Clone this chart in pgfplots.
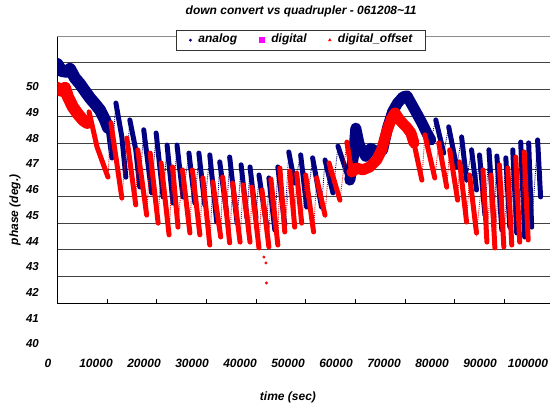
\documentclass[border=0pt]{standalone}
\usepackage{fontspec}
\setmainfont{Liberation Sans}
\usepackage{pgfplots}
\usepackage{pgfplotstable}
\pgfplotsset{compat=1.18}
\definecolor{navyc}{RGB}{0,0,128}
\definecolor{redc}{RGB}{255,0,0}
\definecolor{magc}{RGB}{255,0,255}
% analog (blue) oscillations, part 1
\pgfplotstableread{
x y
10200 46.57
11000 45.44
nan nan
11800 47.49
13000 46.22
13800 44.72
nan nan
14600 46.86
15800 45.74
16600 44.35
nan nan
17400 46.49
19000 44.13
nan nan
19900 46.37
21300 43.98
nan nan
22100 45.92
23300 43.75
nan nan
24100 45.92
25300 43.98
nan nan
26500 45.62
27700 43.75
nan nan
28500 45.62
29700 43.68
nan nan
30700 45.55
32100 43.04
nan nan
32700 45.29
34100 43.38
nan nan
34700 45.47
36200 43.00
nan nan
37000 45.18
38200 43.19
nan nan
38800 45.10
40000 43.19
nan nan
40600 44.80
42200 42.85
nan nan
42600 44.69
43800 42.74
nan nan
44400 45.10
45800 42.93
nan nan
46600 45.66
47800 44.50
nan nan
49000 45.55
50200 43.60
nan nan
51400 45.44
53200 43.60
nan nan
53900 45.36
55500 44.13
nan nan
56500 45.88
58900 44.54
}\blueA
% analog (blue) oscillations, part 2
\pgfplotstableread{
x y
75200 46.11
nan nan
76200 46.86
77800 45.62
nan nan
78800 46.60
80400 45.10
nan nan
81400 46.22
82400 44.61
nan nan
83400 45.74
84400 44.24
nan nan
85000 45.55
86100 43.30
nan nan
86900 45.74
87900 43.04
nan nan
88500 45.51
89500 42.74
nan nan
90300 45.44
91100 42.85
nan nan
91700 45.74
92500 42.63
nan nan
93300 46.03
94100 42.48
nan nan
94900 46.00
95500 42.85
nan nan
96700 46.11
97300 43.98
}\blueB
% digital_offset (red) oscillations, part 1
\pgfplotstableread{
x y
6400 47.16
8000 45.85
10200 44.72
nan nan
10800 46.75
13000 43.94
nan nan
14000 46.18
15800 43.68
nan nan
16200 45.74
18000 43.30
nan nan
18700 45.62
20300 43.00
nan nan
20900 45.25
22500 42.56
nan nan
23200 45.10
24300 42.85
nan nan
25200 44.99
26700 42.63
nan nan
27200 44.99
28700 42.56
nan nan
29300 44.69
30700 42.18
nan nan
31300 44.54
32900 42.48
nan nan
33300 44.72
34700 42.26
nan nan
35300 44.50
36800 42.29
nan nan
37400 44.43
38800 42.29
nan nan
39200 44.35
40600 42.07
nan nan
41200 44.24
42600 42.11
nan nan
43000 44.65
44400 42.18
nan nan
44800 45.06
45800 42.67
nan nan
46800 44.95
47800 42.85
nan nan
48200 44.87
49200 43.00
nan nan
50000 44.80
51600 42.67
nan nan
52200 44.69
53900 43.30
nan nan
54700 45.25
56900 43.86
nan nan
58300 46.03
59300 44.87
}\redA
% digital_offset (red) oscillations, part 2
\pgfplotstableread{
x y
71800 46.00
73400 44.61
nan nan
74000 46.30
76000 44.69
nan nan
76800 46.00
78400 44.35
nan nan
79000 45.74
80600 43.86
nan nan
81000 45.29
82400 43.04
nan nan
83000 44.80
84400 42.63
nan nan
85700 44.99
86500 42.29
nan nan
87300 44.80
88100 42.07
nan nan
89000 45.18
89900 42.11
nan nan
90700 45.06
91500 42.18
nan nan
92300 45.47
93100 42.29
nan nan
94000 45.66
94800 42.37
}\redB
\begin{document}
\begin{tikzpicture}
\useasboundingbox (0,0) rectangle (550pt,406pt);
\clip (0,0) rectangle (550pt,406pt);
% label layer (tick labels and axis titles)
\begin{axis}[
  at={(48pt,62pt)}, anchor=south west, scale only axis,
  width=480pt, height=257.3pt,
  xmin=0, xmax=100000, ymin=40, ymax=50,
  scaled x ticks=false, scaled y ticks=false,
  axis line style={draw=none}, tick style={draw=none},
  xtick={0,10000,20000,30000,40000,50000,60000,70000,80000,90000,100000},
  xticklabels={0,10000,20000,30000,40000,50000,60000,70000,80000,90000,100000},
  ytick={40,41,42,43,44,45,46,47,48,49,50},
  yticklabels={40,41,42,43,44,45,46,47,48,49,50},
  xticklabel style={anchor=base, yshift=-24pt, inner sep=0pt, font=\fontsize{12}{14}\selectfont\bfseries\itshape},
  yticklabel style={anchor=east, xshift=-9pt, inner sep=0pt, font=\fontsize{11.5}{13}\selectfont\bfseries\itshape},
  xlabel={time (sec)}, ylabel={phase (deg.)},
  xlabel style={at={(axis description cs:0.5,-0.206)}, anchor=center, font=\fontsize{12}{14}\selectfont\bfseries\itshape},
  ylabel style={at={(axis description cs:-0.06875,0.5208)}, anchor=center, rotate=0, font=\fontsize{12}{14}\selectfont\bfseries\itshape},
]
\end{axis}
% data layer
\begin{axis}[
  at={(57.3pt,102.7pt)}, anchor=south west, scale only axis,
  width=496.7pt, height=267.3pt,
  xmin=0, xmax=100000, ymin=40, ymax=50,
  scaled x ticks=false, scaled y ticks=false,
  axis x line*=bottom, axis y line*=left,
  axis line style={black, line width=1.1pt},
  xtick={0,10000,20000,30000,40000,50000,60000,70000,80000,90000,100000},
  xticklabels={},
  ytick={40,41,42,43,44,45,46,47,48,49},
  yticklabels={},
  extra y ticks={50}, extra y tick labels={},
  extra y tick style={grid style={black!45, line width=0.8pt}},
  ymajorgrids, grid style={black!75, line width=0.8pt},
  tick align=inside, major tick length=4pt,
  xtick style={black, line width=0.8pt},
  ytick style={draw=none},
  title={down convert vs quadrupler - 061208\textasciitilde 11},
  title style={at={(axis description cs:0.491,1)}, anchor=base, yshift=15.3pt, font=\fontsize{12}{14}\selectfont\bfseries\itshape},
  legend columns=3,
  legend image code/.code={\draw[#1] plot coordinates {(0pt,0pt)};},
  legend style={at={(axis description cs:0.4905,1)}, anchor=center, yshift=-4.2pt,
    draw=black!80, line width=0.8pt, fill=white,
    font=\fontsize{12}{14}\selectfont\bfseries\itshape,
    inner xsep=13pt, inner ysep=5pt,
    nodes={inner sep=0pt, text depth=0.22em, text height=0.75em},
    /tikz/every odd column/.append style={column sep=7pt},
    /tikz/every even column/.append style={column sep=22pt}},
  stripe/.style={line width=5pt, line join=round, line cap=round, unbounded coords=jump, forget plot},
  rise/.style={line width=0.9pt, densely dotted, unbounded coords=discard, forget plot},
  band/.style={line join=round, line cap=round, forget plot},
]
% analog (blue) smooth parts
\addplot[navyc, band, line width=12pt] table {
0 48.95
900 48.69
1950 48.66
2550 48.77
3550 48.43
4550 48.21
5570 47.94
6580 47.68
7590 47.46
8590 47.23
9600 46.86
10200 46.57
};
\addplot[navyc, band, line width=11pt] table {
58900 44.61
59700 45.60
60100 46.55
60700 46.00
61100 45.80
62100 45.50
63100 45.80
64300 45.66
65500 45.74
66500 46.57
67500 47.16
68500 47.49
69600 47.72
70400 47.76
71200 47.49
72200 47.16
73400 46.75
74400 46.37
75200 46.11
};
% analog (blue) oscillations
\addplot[navyc, rise] table[x=x, y=y] {\blueA};
\addplot[navyc, rise] table[x=x, y=y] {\blueB};
\addplot[navyc, stripe] table[x=x, y=y] {\blueA};
\addplot[navyc, stripe] table[x=x, y=y] {\blueB};
% digital_offset (red) smooth parts
\addplot[redc, band, line width=12pt] table {
0 48.06
900 47.94
1550 48.06
2150 47.72
3150 47.34
4150 47.08
5150 46.86
6000 46.75
};
\addplot[redc, band, line width=11pt] table {
59300 44.91
60300 45.06
61500 44.99
62900 45.10
64300 45.36
65300 45.74
66300 46.41
67300 46.93
68000 47.12
68900 46.86
70400 46.57
71200 46.37
71800 46.00
};
% digital_offset (red) oscillations
\addplot[redc, rise] table[x=x, y=y] {\redA};
\addplot[redc, rise] table[x=x, y=y] {\redB};
\addplot[redc, stripe] table[x=x, y=y] {\redA};
\addplot[redc, stripe] table[x=x, y=y] {\redB};
\addplot[only marks, mark=*, mark size=1.3pt, redc, forget plot] table {
41600 41.73
42000 41.51
42100 40.76
};
\addlegendimage{only marks, mark=*, mark size=1pt, navyc}
\addlegendentry{analog}
\addlegendimage{only marks, mark=square*, mark size=2.6pt, magc}
\addlegendentry{digital}
\addlegendimage{only marks, mark=triangle*, mark size=1.3pt, redc}
\addlegendentry{digital\_offset}
\end{axis}
\end{tikzpicture}
\end{document}
